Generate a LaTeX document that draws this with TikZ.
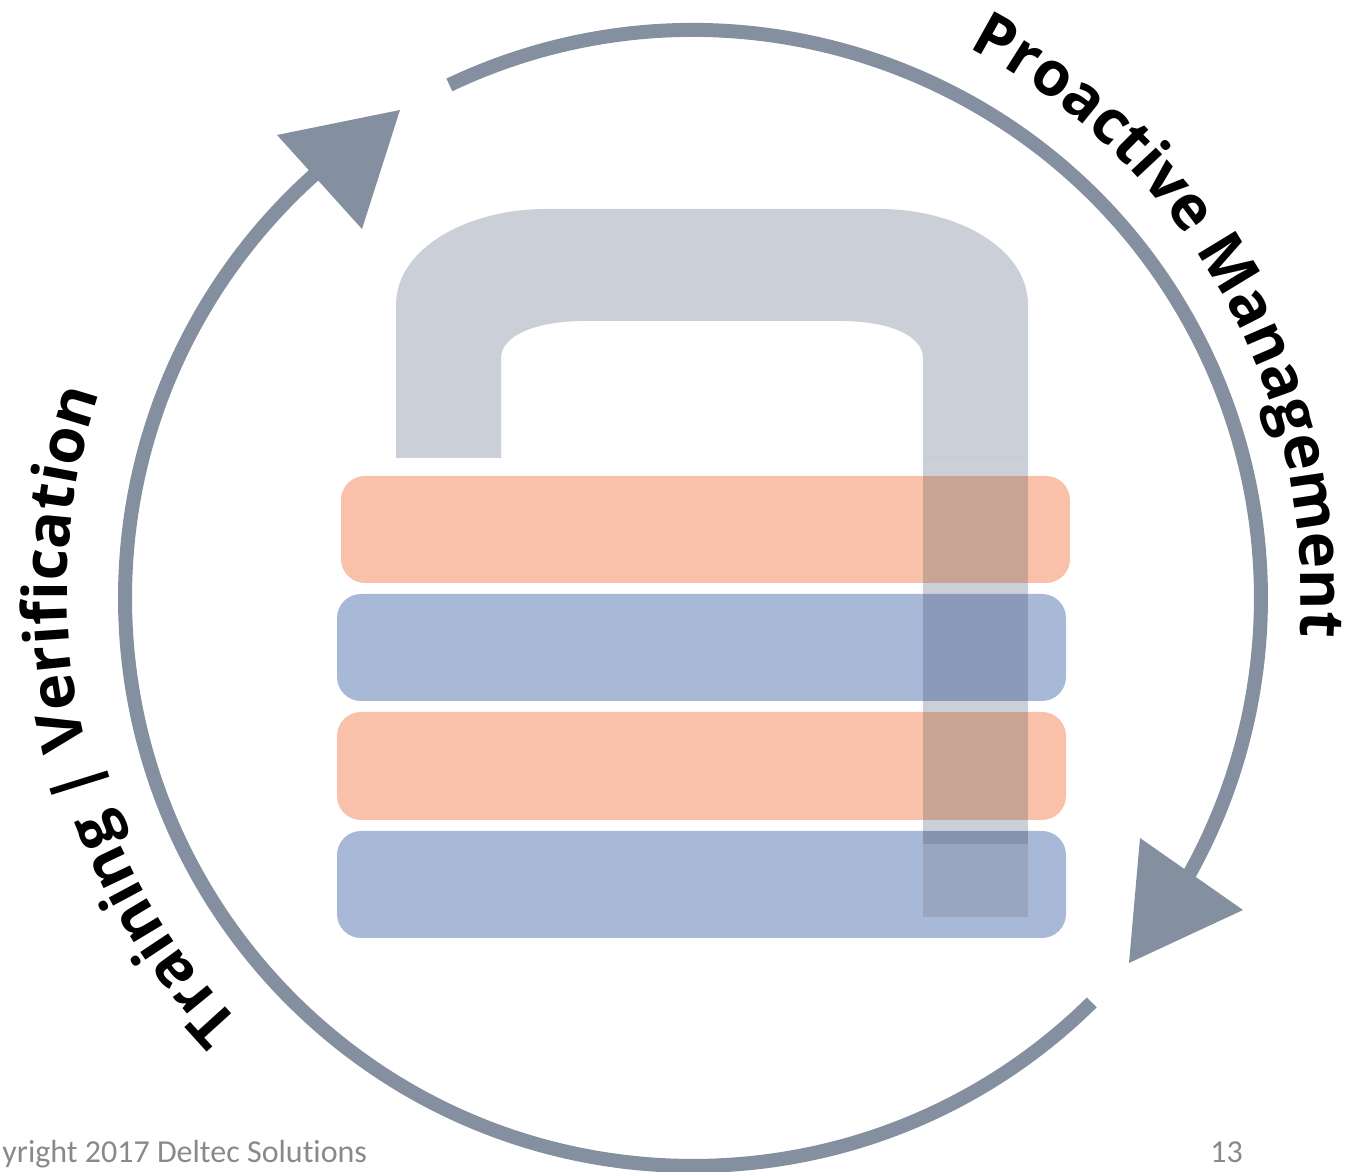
\documentclass[tikz,border=0pt]{standalone}
\usepackage{fontspec}
\setmainfont{Carlito}[Ligatures=NoCommon]
\newfontfamily\curvefont{Open Sans}[Ligatures=NoCommon]
\usetikzlibrary{calc,decorations.text}
\definecolor{Cring}{HTML}{848F9F}
\definecolor{Cshackle}{HTML}{CBCFD8}
\definecolor{Corange}{HTML}{F9C1AA}
\definecolor{Cblue}{HTML}{A8B9D7}
\definecolor{Cfoot}{HTML}{898989}
\tikzset{%
    Dring/.style={draw=Cring, line width=7pt},
    Dhead/.style={fill=Cring},
    Dband/.style={fill=#1, rounded corners=12pt}, Dband/.default={Corange},
    Dfoot/.style={text=Cfoot, font=\fontsize{16}{16}\selectfont, inner sep=0pt, anchor=base west},
    Dcurved/.style={decorate, decoration={text along path, text format delimiters={[}{]},
        text={[\fontsize{30.8}{31}\selectfont\curvefont\bfseries]#1}}}
}
\begin{document}
\begin{tikzpicture}[x=0.5pt,y=0.5pt]
        \useasboundingbox (0,0) rectangle (1362,1172);
        \path
            (693,574) coordinate (Cc)
            (685,577) coordinate (Cr)
            (690,580) coordinate (Cl)
            (396,714) coordinate (Sld)
            (396,867) coordinate (Slu)
            (545,963) coordinate (Stl)
            (880,963) coordinate (Str)
            (1028,867) coordinate (Sru)
            (1028,255) coordinate (Srd)
            (923,255) coordinate (Sid)
            (923,814) coordinate (Siu)
            (840,851) coordinate (Sir)
            (585,851) coordinate (Sil)
            (501,814) coordinate (Sou)
            (501,714) coordinate (Sod);
        % shackle
        \fill[Cshackle] (Sld)--(Slu) .. controls (396,925) and (470,963) .. (Stl)--(Str)
            .. controls (955,963) and (1028,925) .. (Sru)--(Srd)--(Sid)--(Siu)
            .. controls (923,836) and (890,851) .. (Sir)--(Sil)
            .. controls (535,851) and (501,836) .. (Sou)--(Sod)--cycle;
        \draw[Cshackle!97!black, line width=0.4pt] (923,715)--(1028,715);
        % bands of the body
        \foreach \xl/\xr/\yb/\yt/\c/\o in {341/1070/589/696/Corange/C9A394,
                337/1066/471/578/Cblue/8B9ABA,
                337/1066/352/460/Corange/C9A394,
                337/1066/234/341/Cblue/9AA6BF} {
            \fill[Dband=\c] (\xl,\yb) rectangle (\xr,\yt);
            \definecolor{Cover}{HTML}{\o}
            \fill[Cover] (923,{max(\yb,255)}) rectangle (1028,\yt);
        }
        \definecolor{Cdark}{HTML}{8793AD}
        \fill[Cdark] (923,328) rectangle (1028,341);
        % ring
        \draw[Dring] ([shift={(115.4:568)}]Cc) arc[start angle=115.4,end angle=-31,radius=284pt];
        \draw[Dring] ([shift={(-45.4:568)}]Cc) arc[start angle=-45.4,end angle=-228.2,radius=284pt];
        \fill[Dhead] (400,1062)--(277,1037)--(362,943)--cycle;
        \fill[Dhead] (1243,262)--(1140,334)--(1129,209)--cycle;
        % curved texts
        \path[Dcurved={Proactive Management}] ([shift={(62.6:616)}]Cr) arc[start angle=62.6,end angle=-12,radius=308pt];
        \path[Dcurved={Training | Verification}] ([shift={(-136.2:623)}]Cl) arc[start angle=-136.2,end angle=-205,radius=311.5pt];
        % footer
        \node[Dfoot] (Nfoot) at (2,9) {yright 2017 Deltec Solutions};
        \node[Dfoot] (Npage) at (1210,9) {13};
\end{tikzpicture}
\end{document}
